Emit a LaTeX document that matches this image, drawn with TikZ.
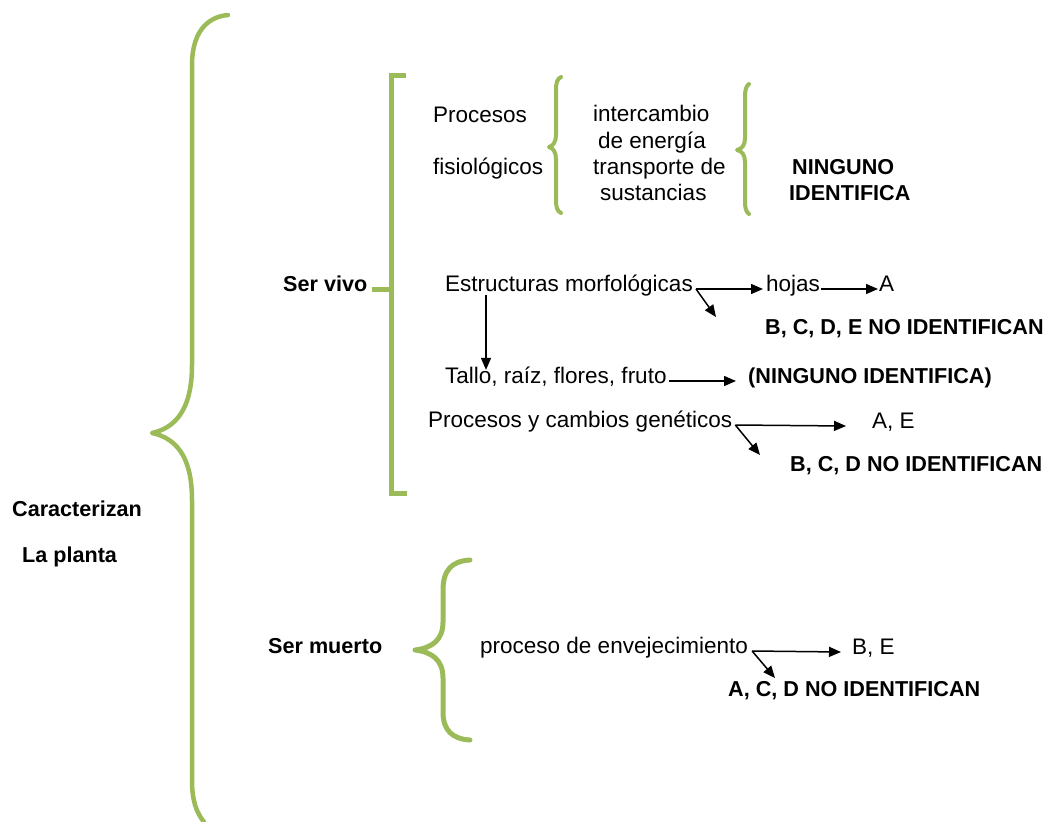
\documentclass[tikz,border=0pt]{standalone}
\usepackage{fontspec}
\setmainfont{Liberation Sans}
\usetikzlibrary{arrows.meta}
\definecolor{leaf}{HTML}{9BBB59}
\begin{document}
\begin{tikzpicture}[x=1pt,y=-1pt,
  lbl/.style={anchor=mid west, inner sep=0pt, yshift=-4pt, font=\fontsize{22.5}{26}\selectfont},
  bold/.style={anchor=mid west, inner sep=0pt, yshift=-4pt, font=\fontsize{21.6}{25}\selectfont\bfseries},
  brace/.style={draw=leaf, line width=4.5pt, line cap=round, line join=round},
  bracket/.style={draw=leaf, line width=5pt, line cap=butt, line join=miter},
  arr/.style={-{Triangle[length=12pt,width=10pt]}, line width=1.5pt}]
\useasboundingbox (0,0) rectangle (1048,821);

% texts
\node[bold] (car) at (12,510) {Caracterizan};
\node[bold] (pla) at (22,556) {La planta};
\node[bold] (vivo) at (283,285) {Ser vivo};
\node[lbl] (proc1) at (433,116) {Procesos};
\node[lbl] (proc2) at (433,168) {fisiológicos};
\node[lbl] (int1) at (593,115) {intercambio};
\node[lbl] (int2) at (598,142) {de energía};
\node[lbl] (int3) at (593,168) {transporte de};
\node[lbl] (int4) at (600,194) {sustancias};
\node[bold] (nin1) at (792,168) {NINGUNO};
\node[bold] (nin2) at (789,194) {IDENTIFICA};
\node[lbl] (estr) at (445,285) {Estructuras morfológicas};
\node[lbl] (hojas) at (766,285) {hojas};
\node[lbl] (a1) at (879,285) {A};
\node[bold] (bcde) at (765,328) {B, C, D, E NO IDENTIFICAN};
\node[lbl] (tallo) at (445,377) {Tallo, raíz, flores, fruto};
\node[bold] (ning) at (748,377) {(NINGUNO IDENTIFICA)};
\node[lbl] (gen) at (428,421) {Procesos y cambios genéticos};
\node[lbl] (ae) at (872,422) {A, E};
\node[bold] (bcd) at (790,465) {B, C, D NO IDENTIFICAN};
\node[bold] (muerto) at (268,647) {Ser muerto};
\node[lbl] (env) at (480,647) {proceso de envejecimiento};
\node[lbl] (be) at (852,648) {B, E};
\node[bold] (acd) at (728,690) {A, C, D NO IDENTIFICAN};

% main brace
\draw[brace] (228,15) .. controls (205,17) and (192,35) .. (192,65) -- (192,365)
  .. controls (192,410) and (175,428) .. (152,433)
  .. controls (175,438) and (192,455) .. (192,500) -- (192,780)
  .. controls (192,800) and (196,812) .. (204,822);

% bracket of the living plant
\coordinate (vbar) at (391,0);
\draw[bracket] (406,76) -- (391,76) -- (391,493) -- (407,493);
\draw[bracket] ([xshift=5pt]vivo.mid east) -- (vivo.mid east -| vbar);

% braces of the physiological processes
\draw[brace, line width=4pt] (561,77) .. controls (557,79) and (556,83) .. (556,90) -- (556,135)
  .. controls (556,142) and (553,146) .. (549,147)
  .. controls (553,148) and (556,152) .. (556,159) -- (556,200)
  .. controls (556,207) and (557,211) .. (561,213);
\draw[brace, line width=4pt] (749,84) .. controls (746,86) and (745,90) .. (745,97) -- (745,138)
  .. controls (745,145) and (742,149) .. (737,150)
  .. controls (742,151) and (745,155) .. (745,162) -- (745,201)
  .. controls (745,208) and (746,212) .. (749,214);

% brace of the dead plant
\draw[brace, line width=5pt] (470,560) .. controls (452,561) and (443,570) .. (443,590) -- (443,622)
  .. controls (443,640) and (432,648) .. (415,650)
  .. controls (432,652) and (443,660) .. (443,678) -- (443,712)
  .. controls (443,730) and (452,739) .. (470,740);

% arrows
\coordinate (vx) at (486,0);
\coordinate (t1) at (716,317);
\coordinate (t2) at (760,455);
\coordinate (t3) at (775,678);
\draw[arr] ([xshift=3pt]estr.mid east) -- ([xshift=-3pt]hojas.mid west);
\draw[arr] ([xshift=1pt]hojas.mid east) -- ([xshift=-1pt]a1.mid west);
\draw[arr] ([xshift=3pt]estr.mid east) -- (t1);
\draw[arr] ([yshift=2pt]estr.south -| vx) -- ([yshift=-3pt]tallo.north -| vx);
\draw[arr] ([xshift=2pt]tallo.mid east) -- ([xshift=-12pt]ning.mid west);
\draw[arr] ([xshift=3pt]gen.mid east) -- ([xshift=-26pt]ae.mid west);
\draw[arr] ([xshift=3pt]gen.mid east) -- (t2);
\draw[arr] ([xshift=4pt]env.mid east) -- ([xshift=-11pt]be.mid west);
\draw[arr] ([xshift=4pt]env.mid east) -- (t3);
\end{tikzpicture}
\end{document}
